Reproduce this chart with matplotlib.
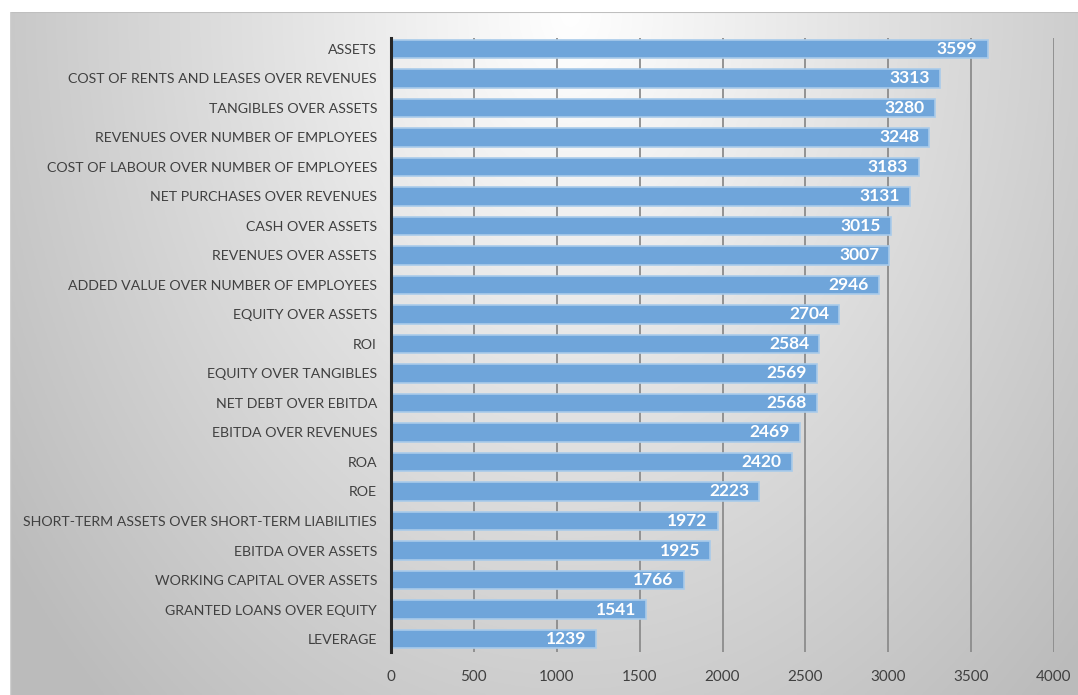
import numpy as np
import matplotlib
matplotlib.use("Agg")
import matplotlib.pyplot as plt

plt.rcParams['font.family'] = ['Lato', 'DejaVu Sans']

indicators = [
    "ASSETS",
    "COST OF RENTS AND LEASES OVER REVENUES",
    "TANGIBLES OVER ASSETS",
    "REVENUES OVER NUMBER OF EMPLOYEES",
    "COST OF LABOUR OVER NUMBER OF EMPLOYEES",
    "NET PURCHASES OVER REVENUES",
    "CASH OVER ASSETS",
    "REVENUES OVER ASSETS",
    "ADDED VALUE OVER NUMBER OF EMPLOYEES",
    "EQUITY OVER ASSETS",
    "ROI",
    "EQUITY OVER TANGIBLES",
    "NET DEBT OVER EBITDA",
    "EBITDA OVER REVENUES",
    "ROA",
    "ROE",
    "SHORT-TERM ASSETS OVER SHORT-TERM LIABILITIES",
    "EBITDA OVER ASSETS",
    "WORKING CAPITAL OVER ASSETS",
    "GRANTED LOANS OVER EQUITY",
    "LEVERAGE",
]
counts = [3599, 3313, 3280, 3248, 3183, 3131, 3015, 3007, 2946, 2704, 2584,
          2569, 2568, 2469, 2420, 2223, 1972, 1925, 1766, 1541, 1239]
x_ticks = [0, 500, 1000, 1500, 2000, 2500, 3000, 3500, 4000]

W, H = 1078, 695
fig = plt.figure(figsize=(W / 100, H / 100), dpi=100)
fig.patch.set_facecolor("white")

# shaded panel behind the chart
bg = fig.add_axes([10 / W, 0, 1 - 10 / W, (H - 12) / H], zorder=-1)
gx, gy = np.meshgrid(np.linspace(-1, 1, 400), np.linspace(0, 1, 300))
dist = np.sqrt(((gx - 0.05) / 1.0) ** 2 + (gy / 1.05) ** 2)
shade = 1.0 - 0.24 * np.clip(dist, 0, 1.3) / 1.3 * 1.1
img = np.dstack([shade, shade, shade])
bg.imshow(np.clip(img, 0, 1), aspect="auto", extent=[0, 1, 0, 1], origin="upper")
bg.set_xlim(0, 1)
bg.set_ylim(0, 1)
bg.axis("off")
bg.plot([0, 1], [1, 1], color="#bfbfbf", lw=1.5, transform=bg.transAxes)
bg.plot([0, 0], [0, 1], color="#d0d0d0", lw=1, transform=bg.transAxes)

ax = fig.add_axes([391 / W, 43 / H, 663 / W, (652 - 38) / H])
ax.set_facecolor("none")
y = np.arange(len(indicators))
ax.barh(y, counts, height=0.62, color="#6fa5da", edgecolor="#a9cbea",
        linewidth=1.2, zorder=3)
for yi, v in zip(y, counts):
    ax.text(v - 62, yi, str(v), ha="right", va="center", color="white",
            fontsize=12.5, fontweight="bold", zorder=4)

ax.set_xlim(0, 4000)
ax.set_ylim(len(indicators) - 1 + 0.44, -0.37)
ax.set_xticks(x_ticks)
ax.set_xticklabels([str(t) for t in x_ticks], fontsize=11, color="#404040")
ax.set_yticks(y)
ax.set_yticklabels(indicators, fontsize=10.2, color="#404040")
ax.tick_params(axis="both", length=0)
ax.tick_params(axis="x", pad=13)
ax.tick_params(axis="y", pad=10)
ax.grid(axis="x", color="#8c8c8c", linewidth=1.3, zorder=0)
ax.set_axisbelow(True)
for side in ["top", "right", "bottom"]:
    ax.spines[side].set_visible(False)
ax.spines["left"].set_color("#262626")
ax.spines["left"].set_linewidth(2.2)
ax.spines["left"].set_zorder(5)

fig.savefig("out.png", dpi=100)
